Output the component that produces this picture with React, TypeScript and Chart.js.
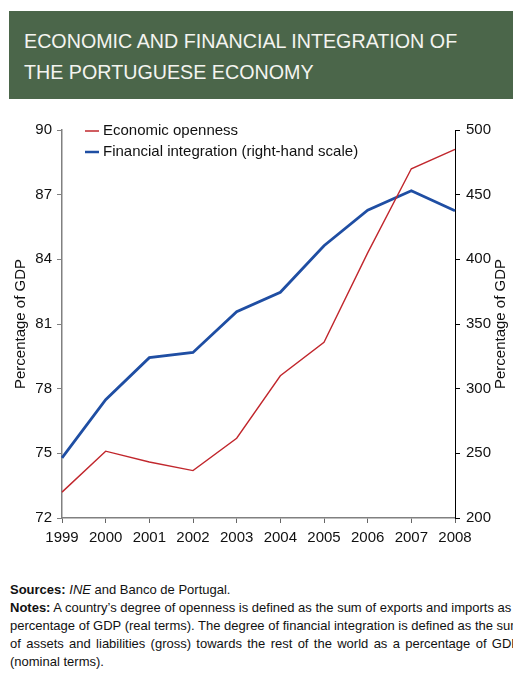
import React, { useEffect, useRef } from "react";
import { Chart, registerables } from "chart.js";

Chart.register(...registerables);

const years = ["1999", "2000", "2001", "2002", "2003", "2004", "2005", "2006", "2007", "2008"];
const economicOpenness = [73.2, 75.1, 74.6, 74.2, 75.7, 78.6, 80.15, 84.3, 88.2, 89.1];
const financialIntegration = [246.5, 291.5, 324, 328, 359.5, 374.5, 410.5, 438, 453, 437.5];
const leftRange = [72, 90];
const leftStep = 3;
const rightRange = [200, 500];
const rightStep = 50;
const seriesNames = ["Economic openness", "Financial integration (right-hand scale)"];
const axisTitle = "Percentage of GDP";

const RED = "#c1272d";
const BLUE = "#1f4ea3";
const FONT = '"Liberation Sans", Arial, sans-serif';

const overlayPlugin = {
  id: "overlay",
  afterDraw(chart: any) {
    const ctx = chart.ctx as CanvasRenderingContext2D;
    const a = chart.chartArea;
    ctx.save();
    const items = [
      { label: seriesNames[0], color: RED, width: 1.5, dy: 1 },
      { label: seriesNames[1], color: BLUE, width: 2.5, dy: 22 },
    ];
    ctx.font = "15px " + FONT;
    ctx.textBaseline = "middle";
    ctx.textAlign = "left";
    for (const it of items) {
      const y = a.top + it.dy;
      ctx.strokeStyle = it.color;
      ctx.lineWidth = it.width;
      ctx.beginPath();
      ctx.moveTo(a.left + 23, y);
      ctx.lineTo(a.left + 37, y);
      ctx.stroke();
      ctx.fillStyle = "#111";
      ctx.fillText(it.label, a.left + 41, y);
    }
    const cy = (a.top + a.bottom) / 2;
    ctx.textAlign = "center";
    ctx.save();
    ctx.translate(21, cy);
    ctx.rotate(-Math.PI / 2);
    ctx.fillText(axisTitle, 0, 0);
    ctx.restore();
    ctx.save();
    ctx.translate(501, cy);
    ctx.rotate(-Math.PI / 2);
    ctx.fillText(axisTitle, 0, 0);
    ctx.restore();
    ctx.restore();
  },
};

function LineChart() {
  const ref = useRef<HTMLCanvasElement>(null);
  useEffect(() => {
    if (!ref.current) return;
    const chart = new Chart(ref.current, {
      type: "line",
      data: {
        labels: years,
        datasets: [
          {
            label: seriesNames[0],
            data: economicOpenness,
            borderColor: RED,
            backgroundColor: RED,
            borderWidth: 1.4,
            pointRadius: 0,
            tension: 0,
            yAxisID: "y",
          },
          {
            label: seriesNames[1],
            data: financialIntegration,
            borderColor: BLUE,
            backgroundColor: BLUE,
            borderWidth: 2.8,
            pointRadius: 0,
            tension: 0,
            yAxisID: "y1",
          },
        ],
      },
      options: {
        animation: false,
        responsive: false,
        maintainAspectRatio: false,
        layout: { padding: { top: 30, left: 0, right: 0, bottom: 0 } },
        plugins: { legend: { display: false }, tooltip: { enabled: false } },
        scales: {
          x: {
            type: "category",
            offset: false,
            grid: {
              display: true,
              drawOnChartArea: false,
              drawTicks: true,
              tickLength: 5,
              color: "#666",
              tickColor: "#666",
            },
            border: { display: true, color: "#808080", width: 1.5 },
            ticks: {
              color: "#111",
              font: { family: FONT, size: 15 },
              padding: 6,
              maxRotation: 0,
              autoSkip: false,
            },
            afterFit(scale: any) {
              scale.height = 42;
            },
          },
          y: {
            type: "linear",
            position: "left",
            min: leftRange[0],
            max: leftRange[1],
            grid: {
              display: true,
              drawOnChartArea: false,
              drawTicks: true,
              tickLength: 5,
              color: "#808080",
              tickColor: "#808080",
            },
            border: { display: true, color: "#808080", width: 1.5 },
            ticks: {
              stepSize: leftStep,
              color: "#111",
              font: { family: FONT, size: 15 },
              padding: 5,
            },
            afterFit(scale: any) {
              scale.width = 62;
            },
          },
          y1: {
            type: "linear",
            position: "right",
            min: rightRange[0],
            max: rightRange[1],
            grid: {
              display: true,
              drawOnChartArea: false,
              drawTicks: true,
              tickLength: 5,
              color: "#000",
              tickColor: "#000",
            },
            border: { display: true, color: "#000", width: 1 },
            ticks: {
              stepSize: rightStep,
              color: "#111",
              font: { family: FONT, size: 15 },
              padding: 6,
            },
            afterFit(scale: any) {
              scale.width = 58;
            },
          },
        },
      },
      plugins: [overlayPlugin],
    } as any);
    return () => chart.destroy();
  }, []);
  return <canvas ref={ref} width={513} height={460} style={{ display: "block", width: 513, height: 460 }} />;
}

const noteLines = [
  "A country\u2019s degree of openness is defined as the sum of exports and imports as a",
  "percentage of GDP (real terms). The degree of financial integration is defined as the sum",
  "of assets and liabilities (gross) towards the rest of the world as a percentage of GDP",
  "(nominal terms).",
];

export default function App() {
  const footFont = '"Liberation Sans", Arial, sans-serif';
  const line: React.CSSProperties = { display: "block", whiteSpace: "nowrap" };
  const justLine: React.CSSProperties = {
    display: "block",
    whiteSpace: "nowrap",
    textAlign: "justify",
    textAlignLast: "justify",
  };
  return (
    <div style={{ position: "absolute", left: 0, top: 0, width: 513, height: 684, overflow: "hidden", background: "#fff" }}>
      <div
        style={{
          position: "absolute",
          left: 9,
          top: 11,
          width: 504,
          height: 88,
          background: "#4b664a",
          color: "#f4f4f0",
          fontFamily: FONT,
          fontSize: 19.7,
          lineHeight: "31px",
          paddingTop: 15,
          paddingLeft: 15,
          boxSizing: "border-box",
        }}
      >
        <div>ECONOMIC AND FINANCIAL INTEGRATION OF</div>
        <div>THE PORTUGUESE ECONOMY</div>
      </div>
      <div style={{ position: "absolute", left: 0, top: 100 }}>
        <LineChart />
      </div>
      <div
        style={{
          position: "absolute",
          left: 10,
          top: 581,
          width: 510,
          fontFamily: footFont,
          fontSize: 13,
          lineHeight: "18px",
          color: "#111",
        }}
      >
        <div style={line}>
          <b>Sources:</b> <i>INE</i> and Banco de Portugal.
        </div>
        <div style={justLine}>
          <b>Notes:</b> {noteLines[0]}
        </div>
        <div style={justLine}>{noteLines[1]}</div>
        <div style={justLine}>{noteLines[2]}</div>
        <div style={line}>{noteLines[3]}</div>
      </div>
    </div>
  );
}
